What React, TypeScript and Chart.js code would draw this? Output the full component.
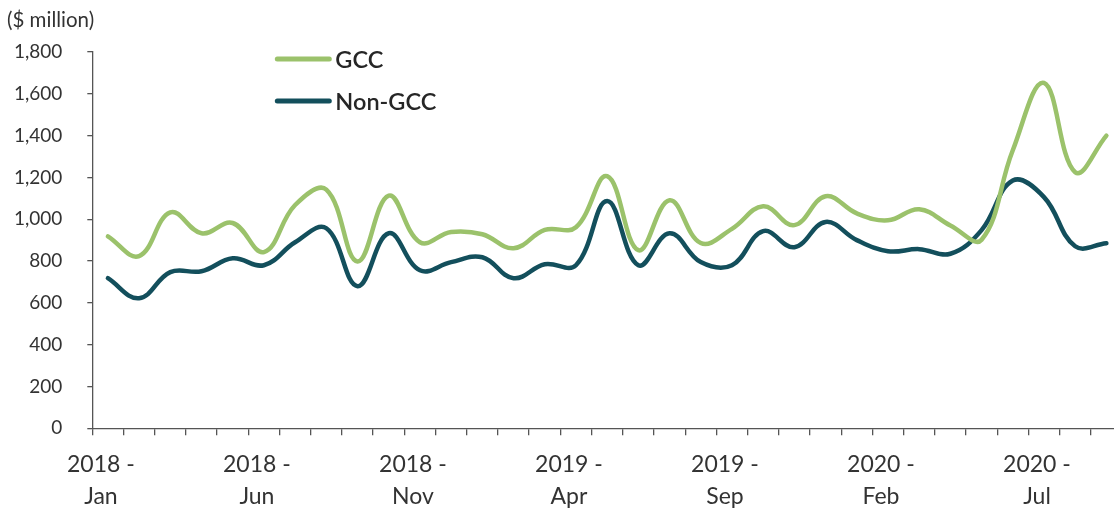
import React, { useEffect, useRef } from "react";
import { Chart, registerables } from "chart.js";

Chart.register(...registerables);

const months: string[] = [
  "2018 - Jan", "2018 - Feb", "2018 - Mar", "2018 - Apr", "2018 - May", "2018 - Jun",
  "2018 - Jul", "2018 - Aug", "2018 - Sep", "2018 - Oct", "2018 - Nov", "2018 - Dec",
  "2019 - Jan", "2019 - Feb", "2019 - Mar", "2019 - Apr", "2019 - May", "2019 - Jun",
  "2019 - Jul", "2019 - Aug", "2019 - Sep", "2019 - Oct", "2019 - Nov", "2019 - Dec",
  "2020 - Jan", "2020 - Feb", "2020 - Mar", "2020 - Apr", "2020 - May", "2020 - Jun",
  "2020 - Jul", "2020 - Aug", "2020 - Sep",
];

const gccValues: number[] = [
  918, 824, 1033, 933, 982, 843, 1068, 1142, 798, 1113, 890,
  939, 928, 861, 949, 962, 1206, 852, 1091, 886,
  954, 1062, 972, 1110, 1028, 995, 1048, 970, 902, 1330, 1652, 1225, 1400,
];

const nonGccValues: number[] = [
  718, 622, 747, 751, 813, 780, 890, 957, 680, 933, 756,
  795, 818, 718, 785, 780, 1087, 780, 933, 795,
  780, 943, 866, 987, 900, 847, 857, 835, 948, 1185, 1106, 871, 885,
];

const yTicks: number[] = [0, 200, 400, 600, 800, 1000, 1200, 1400, 1600, 1800];

const seriesNames: string[] = ["GCC", "Non-GCC"];
const seriesColors: string[] = ["#9BC26B", "#134F5C"];

const TEXT = "#333333";
const AXIS = "#555555";

const legendPlugin = {
  id: "insideLegend",
  afterDatasetsDraw(chart: any) {
    const { ctx, chartArea } = chart;
    const x0 = chartArea.left + 183;
    const rows = [chartArea.top + 7, chartArea.top + 49];
    ctx.save();
    chart.data.datasets.forEach((ds: any, i: number) => {
      const y = rows[i];
      ctx.beginPath();
      ctx.lineCap = "round";
      ctx.lineWidth = 5;
      ctx.strokeStyle = ds.borderColor;
      ctx.moveTo(x0 + 2, y);
      ctx.lineTo(x0 + 54, y);
      ctx.stroke();
      ctx.fillStyle = "#262626";
      ctx.font = "600 23.5px Lato";
      ctx.textBaseline = "middle";
      ctx.textAlign = "left";
      ctx.fillText(ds.label, x0 + 60, y + 1);
    });
    ctx.restore();
  },
};

export default function App() {
  const canvasRef = useRef<HTMLCanvasElement | null>(null);

  useEffect(() => {
    if (!canvasRef.current) return;
    const chart = new Chart(canvasRef.current, {
      type: "line",
      data: {
        labels: months,
        datasets: [
          {
            label: seriesNames[0],
            data: gccValues,
            borderColor: seriesColors[0],
            backgroundColor: seriesColors[0],
            borderWidth: 4.5,
            tension: 0.4,
            pointRadius: 0,
            borderCapStyle: "round",
            borderJoinStyle: "round",
          },
          {
            label: seriesNames[1],
            data: nonGccValues,
            borderColor: seriesColors[1],
            backgroundColor: seriesColors[1],
            borderWidth: 4.5,
            tension: 0.4,
            pointRadius: 0,
            borderCapStyle: "round",
            borderJoinStyle: "round",
          },
        ],
      },
      options: {
        animation: false,
        responsive: false,
        maintainAspectRatio: false,
        layout: { padding: { left: 7, right: 2, top: 0, bottom: 0 } },
        plugins: {
          legend: { display: false },
          tooltip: { enabled: false },
          title: {
            display: true,
            text: "($ million)",
            align: "start",
            color: TEXT,
            font: { family: "Lato", size: 20.5, weight: "normal", lineHeight: 1.2 },
            padding: { top: 8, bottom: 19.4 },
          },
        },
        scales: {
          x: {
            type: "category",
            offset: true,
            grid: {
              offset: true,
              drawOnChartArea: false,
              drawTicks: true,
              tickLength: 7,
              color: AXIS,
              lineWidth: 1.3,
            },
            border: { display: true, color: AXIS, width: 1.3 },
            ticks: {
              autoSkip: false,
              maxRotation: 0,
              minRotation: 0,
              padding: 14,
              labelOffset: -7,
              color: TEXT,
              font: { family: "Lato", size: 23, lineHeight: 1.37 },
              callback: function (_v: any, index: number) {
                if (index % 5 !== 0) return "";
                const parts = months[index].split(" - ");
                return [parts[0] + " -", parts[1]];
              },
            },
            afterFit: (scale: any) => {
              scale.height = 79.7;
            },
          },
          y: {
            min: 0,
            max: 1800,
            afterBuildTicks: (scale: any) => {
              scale.ticks = yTicks.map((v) => ({ value: v }));
            },
            grid: {
              drawOnChartArea: false,
              drawTicks: true,
              tickLength: 5,
              color: AXIS,
              lineWidth: 1.3,
            },
            border: { display: true, color: AXIS, width: 1.3 },
            ticks: {
              padding: 25,
              color: TEXT,
              font: { family: "Lato", size: 19 },
              callback: (v: any) => Number(v).toLocaleString("en-US"),
            },
            afterFit: (scale: any) => {
              scale.width = 85.3;
            },
          },
        },
      },
      plugins: [legendPlugin],
    } as any);
    return () => chart.destroy();
  }, []);

  return (
    <div
      style={{
        position: "fixed",
        left: 0,
        top: 0,
        width: 1114,
        height: 508,
        overflow: "hidden",
        background: "#ffffff",
      }}
    >
      <canvas ref={canvasRef} width={1124} height={508} style={{ display: "block" }} />
    </div>
  );
}
